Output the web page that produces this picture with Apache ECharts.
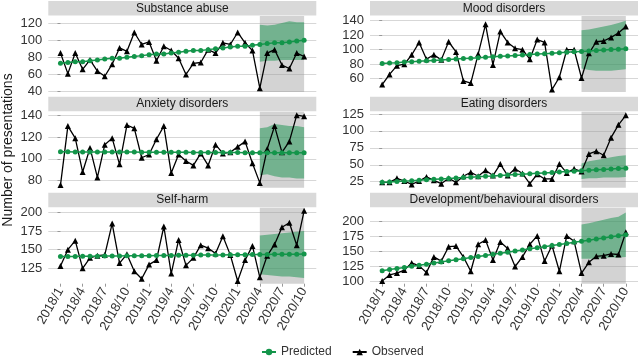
<!DOCTYPE html>
<html>
<head>
<meta charset="utf-8">
<script src="https://cdn.jsdelivr.net/npm/echarts@6/dist/echarts.min.js"></script>
<style>
  html, body { margin: 0; padding: 0; background: #fff; }
  #chart { width: 639px; height: 357px; }
</style>
</head>
<body>
<div id="chart"></div>
<script>
// months 2018/1 .. 2020/10
const months = [
  "2018/1", "2018/2", "2018/3", "2018/4", "2018/5", "2018/6", "2018/7", "2018/8", "2018/9", "2018/10", "2018/11", "2018/12",
  "2019/1", "2019/2", "2019/3", "2019/4", "2019/5", "2019/6", "2019/7", "2019/8", "2019/9", "2019/10", "2019/11", "2019/12",
  "2020/1", "2020/2", "2020/3", "2020/4", "2020/5", "2020/6", "2020/7", "2020/8", "2020/9", "2020/10"
];
const tickMonths = [0, 3, 6, 9, 12, 15, 18, 21, 24, 27, 30, 33];
// forecast window (2020/4 .. 2020/10)
const bandStart = 27;

const substanceObs = [85, 61, 85, 66, 77, 64, 58, 72, 91, 87, 109, 95, 98, 76, 93, 88, 79, 60, 73, 74, 89, 85, 97, 95, 109, 97, 88, 44, 85, 89, 71, 67, 85, 81];
const substancePred = [73, 74, 75, 75, 76, 77, 78, 79, 79, 80, 81, 82, 83, 84, 84, 85, 86, 87, 88, 88, 89, 90, 91, 92, 93, 93, 94, 95, 96, 97, 97, 98, 99, 100];
const substanceLo = [75, 76, 76, 77, 77, 77, 77];
const substanceHi = [118, 117, 118, 120, 122, 121, 121];

const moodObs = [52, 66, 78, 80, 93, 110, 87, 93, 86, 111, 97, 57, 54, 94, 135, 79, 125, 110, 102, 100, 87, 114, 110, 45, 62, 100, 100, 61, 95, 111, 112, 117, 123, 132];
const moodPred = [81, 81.6, 82.2, 82.9, 83.5, 84.1, 84.7, 85.3, 85.9, 86.6, 87.2, 87.8, 88.4, 89, 89.7, 90.3, 90.9, 91.5, 92.1, 92.8, 93.4, 94, 94.6, 95.2, 95.9, 96.5, 97.1, 97.7, 98.3, 99, 99.6, 100.2, 100.8, 101.4];
const moodLo = [74, 72, 71, 71, 71, 72, 73];
const moodHi = [127, 128, 130, 132, 134, 137, 140];

const anxietyObs = [76, 130, 119, 88, 110, 83, 113, 119, 95, 131, 128, 101, 104, 118, 130, 87, 104, 98, 94, 105, 94, 113, 105, 106, 111, 116, 96, 78, 109, 130, 106, 116, 140, 139];
const anxietyPred = [106.5, 106.5, 106.4, 106.4, 106.4, 106.3, 106.3, 106.3, 106.2, 106.2, 106.2, 106.1, 106.1, 106.1, 106, 106, 106, 106, 105.9, 105.9, 105.9, 105.8, 105.8, 105.8, 105.8, 105.7, 105.7, 105.7, 105.7, 105.6, 105.6, 105.6, 105.6, 105.5];
const anxietyLo = [85, 86, 84, 83, 83, 82, 82];
const anxietyHi = [128, 129, 132, 131, 130, 130, 129];

const eatingObs = [24, 24, 30, 26, 21, 26, 32, 27, 22, 30, 24, 33, 39, 33, 42, 34, 51, 34, 44, 37, 22, 36, 29, 29, 51, 38, 44, 40, 66, 70, 64, 90, 109, 123];
const eatingPred = [24, 24.6, 25.3, 25.9, 26.5, 27.2, 27.8, 28.5, 29.1, 29.7, 30.4, 31, 31.6, 32.3, 32.9, 33.5, 34.2, 34.8, 35.5, 36.1, 36.7, 37.4, 38, 38.6, 39.3, 39.9, 40.5, 41.2, 41.8, 42.5, 43.1, 43.7, 44.4, 45];
const eatingLo = [29, 30, 30, 31, 31, 31, 32];
const eatingHi = [52, 55, 57, 59, 61, 63, 64];

const selfharmObs = [128, 150, 162, 125, 139, 142, 143, 185, 132, 144, 121, 111, 130, 136, 181, 118, 163, 129, 139, 156, 152, 145, 168, 143, 108, 136, 155, 113, 142, 157, 180, 186, 156, 202];
const selfharmPred = [140.8, 140.9, 141, 141.1, 141.2, 141.3, 141.4, 141.5, 141.6, 141.7, 141.8, 141.9, 142, 142.1, 142.2, 142.3, 142.4, 142.5, 142.6, 142.7, 142.8, 142.9, 143, 143.1, 143.2, 143.3, 143.4, 143.5, 143.6, 143.7, 143.8, 143.9, 144, 144.1];
const selfharmLo = [117, 116, 115, 114, 114, 113, 112];
const selfharmHi = [169, 170, 171, 172, 173, 174, 175];

const devObs = [101, 111, 114, 119, 131, 126, 115, 141, 134, 158, 159, 141, 117, 162, 169, 136, 166, 155, 125, 141, 162, 176, 134, 160, 117, 176, 167, 114, 132, 142, 143, 146, 145, 182];
const devPred = [118, 119.8, 121.6, 123.5, 125.3, 127.1, 128.9, 130.7, 132.5, 134.4, 136.2, 138, 139.8, 141.6, 143.5, 145.3, 147.1, 148.9, 150.7, 152.5, 154.4, 156.2, 158, 159.8, 161.6, 163.5, 165.3, 167.1, 168.9, 170.7, 172.5, 174.4, 176.2, 178];
const devLo = [138, 138, 138, 139, 140, 140, 141];
const devHi = [195, 197, 200, 203, 206, 208, 215];

const panels = [
  { name: "Substance abuse", obs: substanceObs, pred: substancePred, lo: substanceLo, hi: substanceHi, yMin: 39.6, yMax: 128.2, ticks: [40, 60, 80, 100, 120] },
  { name: "Mood disorders", obs: moodObs, pred: moodPred, lo: moodLo, hi: moodHi, yMin: 41.7, yMax: 146.5, ticks: [60, 80, 100, 120, 140] },
  { name: "Anxiety disorders", obs: anxietyObs, pred: anxietyPred, lo: anxietyLo, hi: anxietyHi, yMin: 73.6, yMax: 143.2, ticks: [80, 100, 120, 140] },
  { name: "Eating disorders", obs: eatingObs, pred: eatingPred, lo: eatingLo, hi: eatingHi, yMin: 16.1, yMax: 128.4, ticks: [25, 50, 75, 100, 125] },
  { name: "Self-harm", obs: selfharmObs, pred: selfharmPred, lo: selfharmLo, hi: selfharmHi, yMin: 104.4, yMax: 206.2, ticks: [125, 150, 175, 200] },
  { name: "Development/behavioural disorders", obs: devObs, pred: devPred, lo: devLo, hi: devHi, yMin: 96.3, yMax: 223, ticks: [100, 125, 150, 175, 200] }
];

const GREEN = "#13954a";
const colLeft = [48.3, 370];
const panelW = 268;
const rowTop = [16, 111.7, 207.7];
const panelH = 76;
const stripH = 14.5;

const chart = echarts.init(document.getElementById("chart"));

const grid = [], xAxis = [], yAxis = [], series = [], graphic = [];

panels.forEach((p, i) => {
  const col = i % 2, row = Math.floor(i / 2);
  const left = colLeft[col], top = rowTop[row];
  const bottomRow = row === 2;
  grid.push({ left: left, top: top, width: panelW, height: panelH });
  xAxis.push({
    type: "value", gridIndex: i, min: -1.65, max: 34.65,
    axisLine: { show: false },
    splitLine: { show: false },
    axisTick: { show: bottomRow, length: 3, lineStyle: { color: "#999" }, customValues: tickMonths },
    axisLabel: {
      show: bottomRow, customValues: tickMonths, rotate: 60, margin: 5,
      fontSize: 13, color: "#333", fontFamily: "Liberation Sans",
      formatter: (v) => months[Math.round(v)]
    }
  });
  yAxis.push({
    type: "value", gridIndex: i, min: p.yMin, max: p.yMax,
    axisLine: { show: false },
    axisTick: { show: true, length: 3, lineStyle: { color: "#999" }, customValues: p.ticks },
    axisLabel: { customValues: p.ticks, fontSize: 13, color: "#333", margin: 6, fontFamily: "Liberation Sans" },
    splitLine: { show: true, lineStyle: { color: "#d7d7d7", width: 1 } }
  });

  // strip
  graphic.push({
    type: "rect", silent: true, z: 1,
    shape: { x: left, y: top - stripH - 0.5, width: panelW, height: stripH },
    style: { fill: "#d9d9d9" }
  });
  graphic.push({
    type: "text", silent: true, z: 2,
    x: left + panelW / 2, y: top - stripH / 2 - 0.5,
    style: { text: p.name, fill: "#1a1a1a", fontSize: 12, fontFamily: "Liberation Sans", align: "center", verticalAlign: "middle" }
  });

  // prediction interval ribbon
  const bandData = p.lo.map((v, k) => [bandStart + k, v, p.hi[k]]);
  series.push({
    type: "custom", xAxisIndex: i, yAxisIndex: i, silent: true, z: 2,
    data: bandData,
    encode: { x: 0, y: [1, 2] },
    renderItem: (params, api) => {
      if (params.dataIndex !== 0) return null;
      const upper = bandData.map((d) => api.coord([d[0], d[2]]));
      const lower = bandData.map((d) => api.coord([d[0], d[1]])).reverse();
      return {
        type: "polygon",
        shape: { points: upper.concat(lower) },
        style: { fill: "rgba(20,145,75,0.5)" }
      };
    }
  });
  series.push({
    name: "Observed", type: "line", xAxisIndex: i, yAxisIndex: i,
    data: p.obs.map((v, k) => [k, v]),
    symbol: "triangle", symbolSize: 6, showAllSymbol: true,
    itemStyle: { color: "#000" }, lineStyle: { color: "#000", width: 1.3 }, z: 3,
    markArea: {
      silent: true, z: 1,
      itemStyle: { color: "rgba(150,150,150,0.42)" },
      data: [[{ xAxis: bandStart }, { xAxis: months.length - 1 }]]
    }
  });
  series.push({
    name: "Predicted", type: "line", xAxisIndex: i, yAxisIndex: i,
    data: p.pred.map((v, k) => [k, v]),
    symbol: "circle", symbolSize: 5, showAllSymbol: true,
    itemStyle: { color: GREEN }, lineStyle: { color: GREEN, width: 1.5 }, z: 4
  });
});

graphic.push({
  type: "text", silent: true,
  x: 8, y: 150, rotation: Math.PI / 2,
  style: { text: "Number of presentations", fill: "#1a1a1a", fontSize: 14, fontFamily: "Liberation Sans", align: "center", verticalAlign: "middle" }
});

chart.setOption({
  animation: false,
  grid: grid,
  xAxis: xAxis,
  yAxis: yAxis,
  graphic: graphic,
  legend: {
    data: ["Predicted", "Observed"],
    top: 341, left: 256,
    itemWidth: 14, itemHeight: 8, itemGap: 20,
    textStyle: { fontSize: 12, color: "#333", fontFamily: "Liberation Sans" }
  },
  series: series
});
</script>
</body>
</html>
